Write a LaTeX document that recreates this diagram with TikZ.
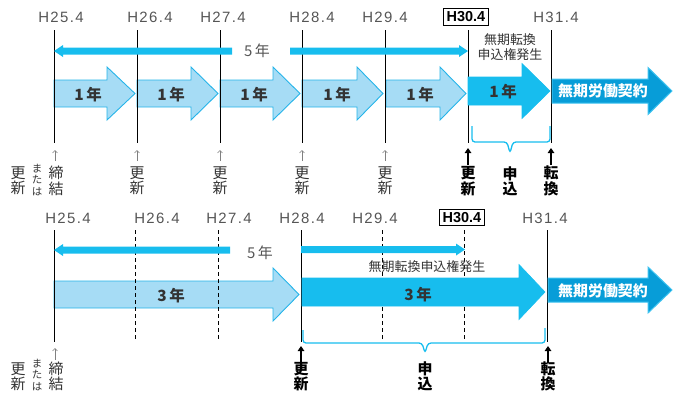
\documentclass[tikz,border=0pt]{standalone}
\usepackage{fontspec}
\setmainfont{Liberation Sans}
\newfontfamily\jp{Noto Sans CJK JP}
\newfontfamily\lab[LetterSpace=9]{Liberation Sans}
\usetikzlibrary{arrows.meta}
\definecolor{lightfill}{HTML}{A6DCF5}
\definecolor{lightedge}{HTML}{25B4E9}
\definecolor{bright}{HTML}{17BDEE}
\definecolor{darkblue}{HTML}{079DD8}
\definecolor{darkedge}{HTML}{3EC3F0}
\definecolor{txt}{HTML}{333333}
\definecolor{labgray}{HTML}{555555}
% #1 style, #2 start x, #3 head-base x, #4 tip x, #5 centre y, #6 shaft half, #7 head half
\newcommand\blockarr[7]{%
  \path[#1] (#2,#5-#6) -- (#3,#5-#6) -- (#3,#5-#7) -- (#4,#5) -- (#3,#5+#7) -- (#3,#5+#6) -- (#2,#5+#6) -- cycle;}
\begin{document}
\begin{tikzpicture}[x=1bp,y=-1bp,
  lightarr/.style={fill=lightfill,draw=lightedge,line width=0.9bp},
  brightarr/.style={fill=bright,draw=bright,line width=0.6bp},
  darkarr/.style={fill=darkblue,draw=darkedge,line width=1bp},
  fivearr/.style={fill=bright},
  yrlabel/.style={font=\jp\bfseries\fontsize{15.5}{15.5}\selectfont,text=txt,inner sep=0},
  whitelabel/.style={font=\jp\bfseries\fontsize{15}{15}\selectfont,text=white,inner sep=0},
  datelabel/.style={font=\lab\fontsize{15}{15}\selectfont,text=labgray,inner sep=0},
  datebox/.style={draw=black,line width=0.9bp,font=\bfseries\fontsize{14.5}{14.5}\selectfont,minimum width=45bp,minimum height=16.5bp,inner sep=0},
  note/.style={font=\jp\fontsize{13}{15}\selectfont,text=txt,align=center,inner sep=0},
  fivelabel/.style={font=\jp\fontsize{15}{15}\selectfont,text=labgray,inner sep=0},
  vt/.style={font=\jp\fontsize{15}{15.5}\selectfont,text=txt,align=center,inner sep=0},
  vtb/.style={font=\jp\bfseries\fontsize{15}{15.5}\selectfont,text=black,align=center,inner sep=0},
  vts/.style={font=\jp\fontsize{10.5}{12}\selectfont,text=txt,align=center,inner sep=0},
  tline/.style={black,line width=0.8bp},
  dline/.style={black,line width=0.8bp,dash pattern=on 4bp off 3bp},
  thinup/.style={gray,line width=0.6bp,-{Straight Barb[length=2.5bp,width=5bp]}},
  boldup/.style={black,line width=1.6bp,-{Triangle[length=5bp,width=6.5bp]}},
  brace/.style={bright,line width=1.3bp,rounded corners=3bp}]
\useasboundingbox (0,0) rectangle (673,392);

% ================= TOP PANEL =================
\node[datelabel] (ta) at (61,17) {H25.4};
\node[datelabel] (tb) at (150,17) {H26.4};
\node[datelabel] (tc) at (223,17) {H27.4};
\node[datelabel] (td) at (312,17) {H28.4};
\node[datelabel] (te) at (385,17) {H29.4};
\node[datebox] (tf) at (466,17) {H30.4};
\node[datelabel] (tg) at (556,17) {H31.4};

% light one-year arrows
\blockarr{lightarr}{54}{107}{135}{93.5}{13.5}{26.5}
\blockarr{lightarr}{137}{191}{218}{93.5}{13.5}{26.5}
\blockarr{lightarr}{220}{273}{300}{93.5}{13.5}{26.5}
\blockarr{lightarr}{302}{357}{383}{93.5}{13.5}{26.5}
\blockarr{lightarr}{386}{440}{466}{93.5}{13.5}{26.5}

% vertical lines
\foreach \x in {54,137,220,302,385,468,551}
  \draw[tline] (\x,30) -- (\x,143);

% bright and dark arrows
\blockarr{brightarr}{468}{522}{550}{91}{14}{27.5}
\blockarr{darkarr}{552}{648}{672}{91}{12}{23.5}

% five-year arrows
\blockarr{fivearr}{232}{63}{54}{51}{3.5}{6}
\blockarr{fivearr}{290}{459}{468}{51}{3.5}{6}
\node[fivelabel] (t5) at (257,51) {5\,年};

\node[yrlabel] (y1) at (88,95) {1\,年};
\node[yrlabel] (y2) at (171,95) {1\,年};
\node[yrlabel] (y3) at (254,95) {1\,年};
\node[yrlabel] (y4) at (337,95) {1\,年};
\node[yrlabel] (y5) at (420,95) {1\,年};
\node[yrlabel] (y6) at (503,92) {1\,年};
\node[whitelabel] (tm) at (603,91) {無期労働契約};
\node[note] (tn) at (510,47.5) {無期転換\\申込権発生};

% brace
\draw[brace] (472,126) -- (472,142) -- (507,142) -- (510,153) -- (513,142) -- (550,142) -- (550,126);

% small arrows and labels
\foreach \x in {55,137,220,302,385}
  \draw[thinup] (\x,161) -- (\x,150);
\draw[boldup] (468,165) -- (468,148);
\draw[boldup] (551,165) -- (551,148);
\node[vt] (ua) at (18,181) {更\\新};
\node[vts] (ub) at (37,180) {ま\\た\\は};
\node[vt] (uc) at (56,181) {締\\結};
\node[vt] (ud) at (137,181) {更\\新};
\node[vt] (ue) at (220,181) {更\\新};
\node[vt] (uf) at (302,181) {更\\新};
\node[vt] (ug) at (385,181) {更\\新};
\node[vtb] (uh) at (468,181) {更\\新};
\node[vtb] (ui) at (510,181) {申\\込};
\node[vtb] (uj) at (551,181) {転\\換};

% ================= BOTTOM PANEL =================
\node[datelabel] (ba) at (68,218) {H25.4};
\node[datelabel] (bb) at (157,218) {H26.4};
\node[datelabel] (bc) at (229,218) {H27.4};
\node[datelabel] (bd) at (302,218) {H28.4};
\node[datelabel] (be) at (375,218) {H29.4};
\node[datebox] (bf) at (462,217.5) {H30.4};
\node[datelabel] (bg) at (545,218) {H31.4};

\blockarr{lightarr}{54}{273}{299}{294.5}{13.5}{26.5}

\foreach \x in {54,301,547}
  \draw[tline] (\x,230) -- (\x,342);
\foreach \x in {135,218,382,464}
  \draw[dline] (\x,230) -- (\x,342);

\blockarr{brightarr}{302}{519}{545}{292}{14}{27.5}
\blockarr{darkarr}{548}{648}{672}{290}{12}{23}

\blockarr{fivearr}{230}{63}{54}{250}{3.5}{6}
\blockarr{fivearr}{301}{456}{465}{249.5}{3.5}{6}
\node[fivelabel] (b5) at (260,253) {5\,年};

\node[yrlabel] (z1) at (171,296) {3\,年};
\node[yrlabel] (z2) at (418,295) {3\,年};
\node[whitelabel] (bm) at (603,291) {無期労働契約};
\node[note] (bn) at (427,267) {無期転換申込権発生};

\draw[brace] (303,330) -- (303,343) -- (422,343) -- (425,353) -- (428,343) -- (545,343) -- (545,328);

\draw[thinup] (55,360) -- (55,348);
\draw[boldup] (301,363) -- (301,346);
\draw[boldup] (548,363) -- (548,346);
\node[vt] (va) at (18,376.5) {更\\新};
\node[vts] (vb) at (37,375) {ま\\た\\は};
\node[vt] (vc) at (56,376.5) {締\\結};
\node[vtb] (vd) at (301,376.5) {更\\新};
\node[vtb] (ve) at (425,376.5) {申\\込};
\node[vtb] (vf) at (548,376.5) {転\\換};
\end{tikzpicture}
\end{document}
